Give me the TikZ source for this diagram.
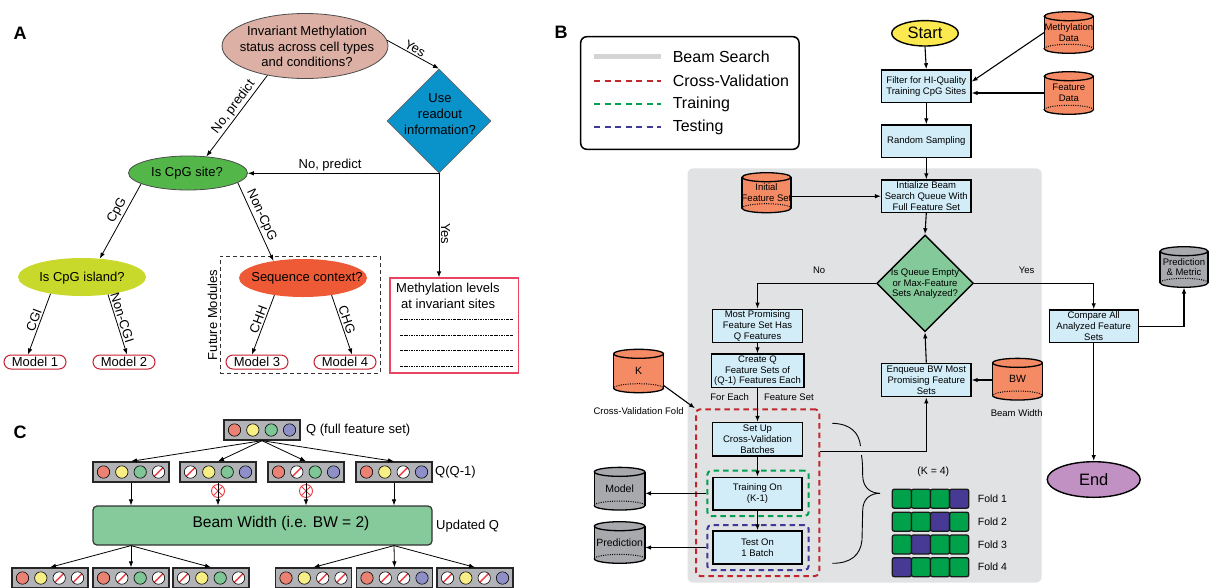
\documentclass[tikz,border=0pt]{standalone}
\usepackage{fontspec}
\setmainfont{Liberation Sans}
\usetikzlibrary{arrows.meta,shapes.geometric,calc}
\definecolor{cTop}{HTML}{DCB0A4}
\definecolor{cBlue}{HTML}{0A93CA}
\definecolor{cGreenA}{HTML}{52B748}
\definecolor{cYG}{HTML}{C8D92B}
\definecolor{cRedA}{HTML}{EE5A35}
\definecolor{cModel}{HTML}{C8202F}
\definecolor{cMB}{HTML}{E94460}
\definecolor{cDotR}{HTML}{E98272}
\definecolor{cDotY}{HTML}{F7EE86}
\definecolor{cDotG}{HTML}{7EC696}
\definecolor{cDotP}{HTML}{8F8FC8}
\definecolor{cFS}{HTML}{B2B3B6}
\definecolor{cBeam}{HTML}{86CA9B}
\definecolor{cCross}{HTML}{EE3B43}
\definecolor{cLB}{HTML}{D2ECF8}
\definecolor{cOr}{HTML}{F58B64}
\definecolor{cGC}{HTML}{A7A9AC}
\definecolor{cStart}{HTML}{FBE94F}
\definecolor{cEnd}{HTML}{C291C4}
\definecolor{cDiamB}{HTML}{84C99A}
\definecolor{cBG}{HTML}{E1E2E4}
\definecolor{cBS}{HTML}{D3D4D6}
\definecolor{cvRed}{HTML}{C1272D}
\definecolor{trGreen}{HTML}{00A04F}
\definecolor{tePurple}{HTML}{3F3A96}
\definecolor{foldG}{HTML}{00A14B}
\definecolor{foldP}{HTML}{463A95}
\tikzset{
  arr/.style={-{Latex[length=6pt,width=4.5pt]}, line width=0.8pt},
  barr/.style={-{Latex[length=6pt,width=4.5pt]}, line width=1.1pt},
  atext/.style={align=center, font=\fontsize{13}{15.7}\selectfont, inner sep=0pt},
  elab/.style={font=\fontsize{13}{15}\selectfont, inner sep=1.5pt},
  panel/.style={font=\fontsize{18}{20}\selectfont\bfseries, inner sep=0pt},
  aell/.style={ellipse, inner sep=0pt},
  modelbox/.style={rectangle, rounded corners=7pt, draw=cModel, line width=1pt, minimum width=62pt, minimum height=14pt, inner sep=0pt, font=\fontsize{13}{15}\selectfont},
  mbdots/.style={dash pattern=on 2.5pt off 1pt on 0.8pt off 1pt, line width=0.7pt},
  fsbox/.style={rectangle, draw=black!85, line width=1.3pt, fill=cFS, minimum width=76pt, minimum height=20pt, inner sep=0pt},
  dot/.style={circle, draw=black, line width=0.6pt, minimum size=12.4pt, inner sep=0pt},
  dR/.style={dot, fill=cDotR},
  dY/.style={dot, fill=cDotY},
  dG/.style={dot, fill=cDotG},
  dP/.style={dot, fill=cDotP},
  dX/.style={dot, fill=white, path picture={\draw[cCross, line width=1.4pt] (path picture bounding box.south west) -- (path picture bounding box.north east);}},
  xc/.style={circle, draw=cCross, line width=0.9pt, minimum size=13pt, inner sep=0pt, fill=white, path picture={\draw[cCross, line width=0.9pt] (path picture bounding box.south west) -- (path picture bounding box.north east) (path picture bounding box.north west) -- (path picture bounding box.south east);}},
  ctext/.style={font=\fontsize{13}{15}\selectfont, inner sep=0pt},
  bbox/.style={rectangle, draw=black, line width=1.4pt, fill=cLB, inner sep=0pt, align=center, font=\fontsize{9.5}{10.8}\selectfont},
  btext/.style={font=\fontsize{9.5}{10.8}\selectfont, inner sep=0pt, align=center},
  dashbox/.style={rectangle, rounded corners=4pt, line width=2pt, dash pattern=on 5.5pt off 4pt, inner sep=0pt},
  legt/.style={font=\fontsize{16}{18}\selectfont, inner sep=0pt, anchor=west},
  cell/.style={rectangle, rounded corners=2pt, draw=black!90, line width=1.3pt, minimum width=19.1pt, minimum height=19pt, inner sep=0pt},
}
\newcommand\cylnode[8]{%
  \begin{scope}[shift={(#2,#3)}]
    \filldraw[fill=#6, draw=black, line width=1.3pt] (0,{#5/2-4.5}) ellipse [x radius={#4/2}, y radius=4.5];
    \fill[#6] ({-#4/2},{-#5/2+4.5}) rectangle ({#4/2},{#5/2-4.5});
    \draw[line width=1.3pt] ({-#4/2},{-#5/2+4.5}) -- ({-#4/2},{#5/2-4.5});
    \draw[line width=1.3pt] ({#4/2},{-#5/2+4.5}) -- ({#4/2},{#5/2-4.5});
    \filldraw[fill=#6, draw=black, line width=1.3pt] (0,{-#5/2+4.5}) ellipse [x radius={#4/2}, y radius=4.5];
    \begin{scope}
      \clip ({-#4/2-2},{-#5/2}) rectangle ({#4/2+2},{#5/2-4.5});
      \draw[dash pattern=on 1pt off 1.3pt, line width=1pt] (0,{#5/2-4.5}) ellipse [x radius={#4/2}, y radius=4.5];
    \end{scope}
  \end{scope}
  \node[inner sep=0pt, minimum width=#4pt, minimum height=#5pt, align=center, font=#7] (#1) at (#2,#3) {#8};
}
\newcommand\fset[7]{%
  \node[fsbox] (#1) at (#2,#3) {};
  \node[#4] (#1a) at ({#2-27.5},#3) {};
  \node[#5] (#1b) at ({#2-9.2},#3) {};
  \node[#6] (#1c) at ({#2+9.2},#3) {};
  \node[#7] (#1d) at ({#2+27.5},#3) {};
}
\begin{document}
\begin{tikzpicture}[x=1pt,y=-1pt]
\useasboundingbox (0,0) rectangle (1209,587);
\fill[white] (0,0) rectangle (1209,587);

% ================= Panel A =================
\node[panel] (labA) at (20,33) {A};
\node[aell, fill=cTop, draw=black!70, line width=0.8pt, minimum width=166pt, minimum height=65pt] (e0) at (305,46) {};
\node[atext] (e0t) at (307,46.5) {Invariant Methylation\\status across cell types\\and conditions?};
\node[diamond, fill=cBlue, draw=black!60, line width=0.6pt, minimum width=104pt, minimum height=104pt, inner sep=0pt] (d1) at (439,121) {};
\node[atext] (d1t) at (440,114) {Use\\readout\\information?};
\node[aell, fill=cGreenA, draw=black!70, line width=0.8pt, minimum width=119pt, minimum height=34pt] (g) at (188,173) {};
\node[atext] (gt) at (187,173) {Is CpG site?};
\node[aell, fill=cYG, minimum width=128pt, minimum height=38pt] (yg) at (82,277) {};
\node[atext] (ygt) at (82,278) {Is CpG island?};
\node[aell, fill=cRedA, minimum width=128pt, minimum height=38pt] (r) at (303,278) {};
\node[atext] (rt) at (307,278) {Sequence context?};
\node[rectangle, draw=black!80, dash pattern=on 4pt off 3pt, line width=0.9pt, minimum width=160pt, minimum height=117pt, inner sep=0pt] (fm) at (300,314.5) {};
\node[atext, rotate=90] (fmt) at (212.5,315) {Future Modules};
\node[modelbox] (m1) at (35,362) {Model 1};
\node[modelbox] (m2) at (124,362) {Model 2};
\node[modelbox] (m3) at (257,362) {Model 3};
\node[modelbox] (m4) at (345,362) {Model 4};
\node[rectangle, draw=cMB, line width=1.3pt, minimum width=128.6pt, minimum height=95pt, inner sep=0pt] (mb) at (454.3,325.5) {};
\node[atext, anchor=west, align=left] (mbt) at (396,296) {Methylation levels\\\hspace*{5pt}at invariant sites};
\foreach \yy in {319,335,350,366} \draw[mbdots] (400,\yy) -- (512.5,\yy);

\draw[arr] (e0.4) -- node[elab, sloped, above, pos=0.48] (la1) {Yes} (d1.north);
\draw[arr] (e0.218) -- node[elab, sloped, above, pos=0.45] (la2) {No, predict} (g.42);
\draw[arr] (d1.south) -- node[elab, above, pos=0.57] (la3) {No, predict} (d1.south -| g.east);
\draw[arr] (d1.south) -- node[elab, sloped, above, pos=0.58] (la4) {Yes} (d1.south |- mb.north);
\draw[arr] (g.193) -- node[elab, sloped, above, pos=0.41] (la5) {CpG} (yg.46);
\draw[arr] (g.349) -- node[elab, sloped, above, pos=0.46] (la6) {Non-CpG} (r.150);
\draw[arr] (yg.208) -- node[elab, sloped, above, pos=0.47] (la7) {CGI} ([xshift=-7pt]m1.north);
\draw[arr] (yg.326) -- node[elab, sloped, above, pos=0.42] (la8) {Non-CGI} ([xshift=3pt]m2.north);
\draw[arr] (r.211) -- node[elab, sloped, above, pos=0.45] (la9) {CHH} ([xshift=-5pt]m3.north);
\draw[arr] (r.329) -- node[elab, sloped, above, pos=0.45] (la10) {CHG} ([xshift=7pt]m4.north);

% ================= Panel C =================
\node[panel] (labC) at (20,432) {C};
\fset{q0}{262}{430}{dR}{dY}{dG}{dP}
\node[ctext, anchor=west] (q0t) at (306,430) {Q (full feature set)};
\fset{b1}{131}{472}{dR}{dY}{dG}{dX}
\fset{b2}{218}{472}{dX}{dY}{dG}{dP}
\fset{b3}{306}{472}{dR}{dX}{dG}{dP}
\fset{b4}{394}{472}{dR}{dY}{dX}{dP}
\node[ctext, anchor=west] (q1t) at (435,472) {Q(Q-1)};
\node[rectangle, rounded corners=4pt, draw=black!80, line width=1.2pt, fill=cBeam, minimum width=339pt, minimum height=39pt, inner sep=0pt] (beam) at (262.5,525.5) {};
\node[inner sep=0pt, font=\fontsize{15.5}{17}\selectfont] (beamt) at (281,523) {Beam Width (i.e. BW = 2)};
\node[ctext, anchor=west] (uq) at (436,526) {Updated Q};
\node[xc] (x1) at (218,491) {};
\node[xc] (x2) at (306,491) {};
\draw[arr] (q0.south) -- (b1.north);
\draw[arr] (q0.south) -- (b2.north);
\draw[arr] (q0.south) -- (b3.north);
\draw[arr] (q0.south) -- (b4.north);
\draw[arr] (b1.south) -- (b1.south |- beam.north);
\draw[arr] (b2.south) -- (b2.south |- beam.north);
\draw[arr] (b3.south) -- (b3.south |- beam.north);
\draw[arr] (b4.south) -- (b4.south |- beam.north);
\fset{c1}{50}{578}{dR}{dY}{dX}{dX}
\fset{c2}{131}{578}{dR}{dX}{dG}{dX}
\fset{c3}{211}{578}{dX}{dY}{dG}{dX}
\fset{c4}{313.5}{578}{dR}{dY}{dX}{dX}
\fset{c5}{394.5}{578}{dR}{dX}{dX}{dP}
\fset{c6}{475}{578}{dX}{dY}{dX}{dP}
\draw[arr] (beam.south -| b1) -- (c1.north);
\draw[arr] (beam.south -| b1) -- (c2.north);
\draw[arr] (beam.south -| b1) -- (c3.north);
\draw[arr] (beam.south -| b4) -- (c4.north);
\draw[arr] (beam.south -| b4) -- (c5.north);
\draw[arr] (beam.south -| b4) -- (c6.north);

% ================= Panel B =================
\node[panel] (labB) at (561,32) {B};
\fill[cBG, rounded corners=6pt] (687.5,168.3) rectangle (1041.7,582.7);
% legend
\node[draw=black, line width=1.5pt, rounded corners=6pt, minimum width=218.3pt, minimum height=112.6pt, inner sep=0pt] (leg) at (689.85,93) {};
\draw[line width=5pt, cBS] (594,56.7) -- (660.6,56.7);
\draw[line width=2pt, cvRed, dash pattern=on 6pt off 4.5pt] (594,80.7) -- (660.6,80.7);
\draw[line width=2pt, trGreen, dash pattern=on 6pt off 4.5pt] (594,104.3) -- (660.6,104.3);
\draw[line width=2pt, tePurple, dash pattern=on 6pt off 4.5pt] (594,127.3) -- (660.6,127.3);
\node[legt] (lg1) at (672.6,56.7) {Beam Search};
\node[legt] (lg2) at (672.6,80.7) {Cross-Validation};
\node[legt] (lg3) at (672.6,104.3) {Training};
\node[legt] (lg4) at (672.6,127.3) {Testing};

% flow
\node[ellipse, draw=black, line width=1.4pt, fill=cStart, minimum width=66.6pt, minimum height=25.4pt, inner sep=0pt, font=\fontsize{16.5}{18}\selectfont] (start) at (925,33.3) {Start};
\node[bbox, minimum width=89.3pt, minimum height=32.7pt] (filter) at (926.3,86.3) {Filter for HI-Quality\\Training CpG Sites};
\node[bbox, minimum width=89.3pt, minimum height=32.3pt] (rand) at (926.3,141.2) {Random Sampling};
\node[bbox, minimum width=89.3pt, minimum height=32.3pt] (init) at (926.3,196.2) {Intialize Beam\\Search Queue With\\Full Feature Set};
\node[diamond, fill=cDiamB, draw=black, line width=1.4pt, minimum width=96.7pt, minimum height=96.7pt, inner sep=0pt] (d2) at (925,283.3) {};
\node[btext, font=\fontsize{9.5}{10.5}\selectfont] (d2t) at (925,284) {Is Queue Empty\\or Max-Feature\\Sets Analyzed?};
\node[bbox, minimum width=90pt, minimum height=33.4pt] (mp) at (757.5,326) {Most Promising\\Feature Set Has\\Q Features};
\node[bbox, minimum width=92.6pt, minimum height=33.3pt] (cq) at (757.5,370.7) {Create Q\\Feature Sets of\\(Q-1) Features Each};
\node[bbox, minimum width=89.3pt, minimum height=33.4pt, font=\fontsize{9.5}{11.2}\selectfont] (enq) at (926.3,380) {Enqueue BW Most\\Promising Feature\\Sets};
\node[bbox, minimum width=89pt, minimum height=32.7pt, font=\fontsize{9.5}{10.9}\selectfont] (cmp) at (1093.7,326.3) {Compare All\\Analyzed Feature\\Sets};
\node[ellipse, draw=black, line width=1.4pt, fill=cEnd, minimum width=93pt, minimum height=35.6pt, inner sep=0pt, font=\fontsize{16.5}{18}\selectfont] (end) at (1093.7,479.5) {End};

% dashed containers
\node[dashbox, draw=cvRed, minimum width=123.3pt, minimum height=166.7pt] (cv) at (757.65,492.65) {};
\node[dashbox, draw=trGreen, minimum width=101.4pt, minimum height=45.3pt] (trb) at (758,493.35) {};
\node[dashbox, draw=tePurple, minimum width=101.4pt, minimum height=45pt] (teb) at (758,547.5) {};
\node[bbox, minimum width=90pt, minimum height=33.3pt] (su) at (757.5,439.3) {Set Up\\Cross-Validation\\Batches};
\node[bbox, minimum width=89.3pt, minimum height=32.7pt] (tr) at (757.5,493.7) {Training On\\(K-1)};
\node[bbox, minimum width=89.3pt, minimum height=33pt] (te) at (757.5,547.5) {Test On\\1 Batch};

% cylinders
\cylnode{md}{1068.8}{32.5}{49}{41.6}{cOr}{\fontsize{9.5}{10.7}\selectfont}{Methylation\\Data}
\cylnode{fd}{1068.8}{93}{49}{42.6}{cOr}{\fontsize{9.5}{10.7}\selectfont}{Feature\\Data}
\cylnode{ifs}{766.5}{192.7}{49}{40}{cOr}{\fontsize{9.5}{10.7}\selectfont}{Initial\\Feature Set}
\cylnode{kc}{638.6}{371}{49.7}{43.4}{cOr}{\fontsize{10.5}{12}\selectfont}{K}
\cylnode{bw}{1017.5}{379.2}{49.6}{41.7}{cOr}{\fontsize{10.5}{12}\selectfont}{BW}
\cylnode{model}{619.6}{488.7}{50.5}{42.7}{cGC}{\fontsize{10.5}{12}\selectfont}{Model}
\cylnode{pred}{619.6}{542.5}{50.5}{41.6}{cGC}{\fontsize{10.5}{12}\selectfont}{Prediction}
\cylnode{pm}{1184}{267}{48}{40.6}{cGC}{\fontsize{9.5}{10.4}\selectfont}{Prediction\\\& Metric}

\node[btext] (bwt) at (1016.7,412.7) {Beam Width};
\node[btext] (cvf) at (638.6,410.7) {Cross-Validation Fold};
\node[btext, font=\fontsize{10.5}{12}\selectfont] (k4) at (933.3,471.7) {(K = 4)};

% folds
\foreach \r/\yy/\pc in {1/498.7/4, 2/521.7/3, 3/544.5/2, 4/567.2/1} {
  \foreach \c/\xx in {1/901.85, 2/920.95, 3/940.05, 4/959.15} {
    \ifnum\c=\pc
      \node[cell, fill=foldP] (f\r\c) at (\xx,\yy) {};
    \else
      \node[cell, fill=foldG] (f\r\c) at (\xx,\yy) {};
    \fi
  }
  \node[btext, anchor=west, font=\fontsize{10.5}{12}\selectfont] (fl\r) at (977.7,\yy) {Fold \r};
}

% brace
\draw[line width=0.9pt] (832.3,423.3) .. controls (851,423.8) and (859,433) .. (860.5,446);
\draw[line width=0.9pt] (861.5,455) .. controls (862.5,463) .. (862.7,476) .. controls (863,488) and (871,493.3) .. (880,493.3) .. controls (871,493.3) and (863,498) .. (862.7,510) -- (862,540) .. controls (860.5,555) and (851,563.3) .. (832.3,563.3);

% arrows
\draw[barr] (start.south) -- (filter.north);
\draw[barr] (md.west) -- ([yshift=4.6pt]filter.east);
\draw[barr] (fd.west) -- (fd.west -| filter.east);
\draw[barr] (filter.south) -- (rand.north);
\draw[barr] (rand.south) -- (init.north);
\draw[barr] (ifs.east |- init.west) -- (init.west);
\draw[barr] (init.south) -- (d2.north);
\draw[barr] (d2.west) -| node[btext, above=9pt, pos=0.24] (no) {No} (mp.north);
\draw[barr] (d2.east) -| node[btext, above=9pt, pos=0.22] (yes) {Yes} (cmp.north);
\draw[barr] (mp.south) -- (cq.north);
\draw[barr] (cq.south) -- node[btext, left=8pt, pos=0.28] (fe) {For Each} node[btext, right=6pt, pos=0.28] (fs) {Feature Set} (su.north);
\draw[barr] (su.south) -- (tr.north);
\draw[barr] (tr.south) -- (te.north);
\draw[barr] (enq.north) -- (d2.south);
\draw[barr] (bw.west |- enq.east) -- (enq.east);
\coordinate (sue) at ($(cv.east |- su.south)+(0,-5.3)$);
\draw[barr] (sue) -| (enq.south);
\draw[barr] (cmp.east) -| (pm.south);
\draw[barr] (cmp.south) -- (end.north);
\draw[barr] (kc.330) -- (cv.north west);
\draw[barr] (trb.west) -- (trb.west -| model.east);
\draw[barr] (teb.west) -- (teb.west -| pred.east);
\end{tikzpicture}
\end{document}
